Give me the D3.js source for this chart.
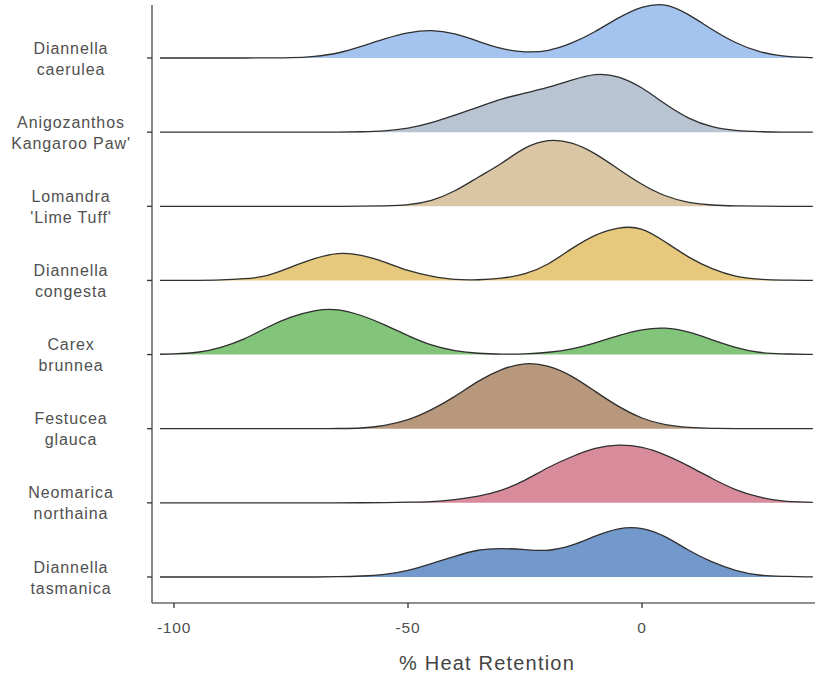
<!DOCTYPE html>
<html>
<head>
<meta charset="utf-8">
<script src="https://cdn.jsdelivr.net/npm/d3@7"></script>
<style>
  html, body { margin: 0; padding: 0; background: #fff; }
  svg { display: block; font-family: Arial, "Liberation Sans", sans-serif; }
</style>
</head>
<body>
<svg id="chart" width="815" height="676"></svg>
<script>
// Species, top to bottom, with their two-line labels
const species = [
  "Dianella caerulea",
  "Anigozanthos Kangaroo Paw",
  "Lomandra Lime Tuff",
  "Dianella congesta",
  "Carex brunnea",
  "Festucea glauca",
  "Neomarica northaina",
  "Dianella tasmanica"
];
const labelLines = [
  ["Diannella", "caerulea"],
  ["Anigozanthos", "Kangaroo Paw'"],
  ["Lomandra", "'Lime Tuff'"],
  ["Diannella", "congesta"],
  ["Carex", "brunnea"],
  ["Festucea", "glauca"],
  ["Neomarica", "northaina"],
  ["Diannella", "tasmanica"]
];
const fills = ["#a5c3ef", "#b9c4d2", "#dac5a4", "#e7c97d", "#82c47a", "#b8987c", "#d88c9b", "#7399cc"];

// Heat retention grid (%) on which the ridge densities are given
const heatGrid = [-103, -100, -95, -90, -85, -80, -75, -70, -65, -60, -55, -50, -45, -40, -35,
                  -30, -25, -20, -15, -10, -5, 0, 5, 10, 15, 20, 25, 30, 35, 36.5];

// Scaled density for each species along heatGrid
const densCaerulea   = [0, 0, 0, 0, 0, 0.1, 0.3, 1.7, 5, 11.5, 19, 25, 27.3, 24, 16.7,
                        9.5, 6.2, 7.7, 15, 26.5, 40, 50.5, 52.8, 43, 28.5, 15.5, 6.5, 2.2, 0.6, 0.4];
const densAnigozanthos = [0, 0, 0, 0, 0, 0, 0, 0, 0.1, 0.4, 1.3, 4, 9.5, 17, 25,
                        33, 39, 45, 52, 57.5, 55, 44, 28, 14, 5.5, 1.8, 0.5, 0.1, 0, 0];
const densLomandra   = [0, 0, 0, 0, 0, 0, 0, 0, 0, 0.1, 0.5, 1.7, 6, 15.5, 29,
                        43, 58, 65.5, 63, 52.3, 37, 22, 10.5, 4, 1.3, 0.4, 0.1, 0, 0, 0];
const densCongesta   = [0, 0, 0.1, 0.5, 1.7, 5, 13.3, 21.7, 26.7, 25, 18.3, 10, 4.3, 1, 0.7,
                        2.3, 6.7, 16.7, 31.7, 45, 52.3, 51, 38.3, 23.3, 11.7, 4.3, 1.3, 0.4, 0.1, 0];
const densCarex      = [0.3, 0.7, 2.3, 7.3, 15.7, 27.3, 37.3, 43.7, 44.7, 39, 29.7, 19, 9.7, 4, 1.3,
                        0.5, 0.7, 2.3, 5.7, 11.7, 19, 24.7, 26.3, 22.3, 14.7, 7.3, 2.3, 0.7, 0.2, 0.1];
const densFestucea   = [0, 0, 0, 0, 0, 0, 0, 0, 0.2, 0.7, 3.3, 9, 19, 32.3, 47.3,
                        59, 64.7, 62.3, 52.3, 37.3, 22.3, 10.7, 4, 1.3, 0.4, 0.1, 0, 0, 0, 0];
const densNeomarica  = [0, 0, 0, 0, 0, 0, 0, 0, 0, 0.1, 0.3, 0.7, 1.3, 3.3, 6.7,
                        12.7, 22.7, 35.3, 46, 54.3, 57.7, 55.3, 47.7, 36.7, 24.3, 13.3, 6, 2, 0.7, 0.5];
const densTasmanica  = [0, 0, 0, 0, 0, 0, 0, 0, 0.3, 1, 2.7, 6.7, 13.3, 20.7, 26.7,
                        28.3, 27.3, 26.7, 31.7, 40.7, 48, 48.3, 40, 26.7, 15, 6.7, 2, 0.7, 0.2, 0.1];

const densities = [densCaerulea, densAnigozanthos, densLomandra, densCongesta,
                   densCarex, densFestucea, densNeomarica, densTasmanica];

// X axis ticks and title
const xTicks = [-100, -50, 0];
const xTitle = "% Heat Retention";

// ---- layout ----
const svg = d3.select("#chart");
const plotLeft = 152, plotRight = 815, plotTop = 5, plotBottom = 603;

const x = d3.scaleLinear().domain([-100, 0]).range([174, 642]);
const y = d3.scalePoint().domain(species).range([58, 577]);
const rowStep = y.step();
// a scaled density of 74 fills one row spacing
const h = d3.scaleLinear().domain([0, 74]).range([0, rowStep]);

const area = d3.area()
  .x(d => x(d[0]))
  .y0(0)
  .y1(d => -h(d[1]))
  .curve(d3.curveNatural);
const line = d3.line()
  .x(d => x(d[0]))
  .y(d => -h(d[1]))
  .curve(d3.curveNatural);

const ridges = svg.append("g").attr("class", "ridges");
species.forEach((s, i) => {
  const pts = heatGrid.map((v, j) => [v, densities[i][j]]);
  const g = ridges.append("g").attr("transform", `translate(0,${y(s)})`);
  g.append("path").attr("d", area(pts)).attr("fill", fills[i]).attr("stroke", "none");
  g.append("path").attr("d", line(pts)).attr("fill", "none")
    .attr("stroke", "#2f2f2f").attr("stroke-width", 1.3);
});

// ---- axes ----
const axisColor = "#6a6a6a";
svg.append("line")
  .attr("x1", plotLeft).attr("x2", plotLeft)
  .attr("y1", plotTop).attr("y2", plotBottom)
  .attr("stroke", axisColor).attr("stroke-width", 1.6);
svg.append("line")
  .attr("x1", plotLeft).attr("x2", plotRight)
  .attr("y1", plotBottom).attr("y2", plotBottom)
  .attr("stroke", axisColor).attr("stroke-width", 1.6);

// y ticks and two-line species labels
species.forEach((s, i) => {
  svg.append("line")
    .attr("x1", plotLeft - 5).attr("x2", plotLeft)
    .attr("y1", y(s)).attr("y2", y(s))
    .attr("stroke", "#333").attr("stroke-width", 1.3);
  const t = svg.append("text")
    .attr("x", 71).attr("y", y(s))
    .attr("text-anchor", "middle")
    .attr("fill", "#505050")
    .style("font-size", "16px")
    .style("letter-spacing", "0.9px");
  t.append("tspan").attr("x", 71).attr("dy", "-4.5").text(labelLines[i][0]);
  t.append("tspan").attr("x", 71).attr("dy", "21").text(labelLines[i][1]);
});

// x ticks
xTicks.forEach(v => {
  svg.append("line")
    .attr("x1", x(v)).attr("x2", x(v))
    .attr("y1", plotBottom).attr("y2", plotBottom + 5)
    .attr("stroke", "#333").attr("stroke-width", 1.3);
  svg.append("text")
    .attr("x", x(v)).attr("y", 633)
    .attr("text-anchor", "middle")
    .attr("fill", "#505050")
    .style("font-size", "15.5px")
    .style("letter-spacing", "0.8px")
    .text(v);
});

svg.append("text")
  .attr("x", 487).attr("y", 670)
  .attr("text-anchor", "middle")
  .attr("fill", "#444")
  .style("font-size", "20px")
  .style("letter-spacing", "1.2px")
  .text(xTitle);
</script>
</body>
</html>
